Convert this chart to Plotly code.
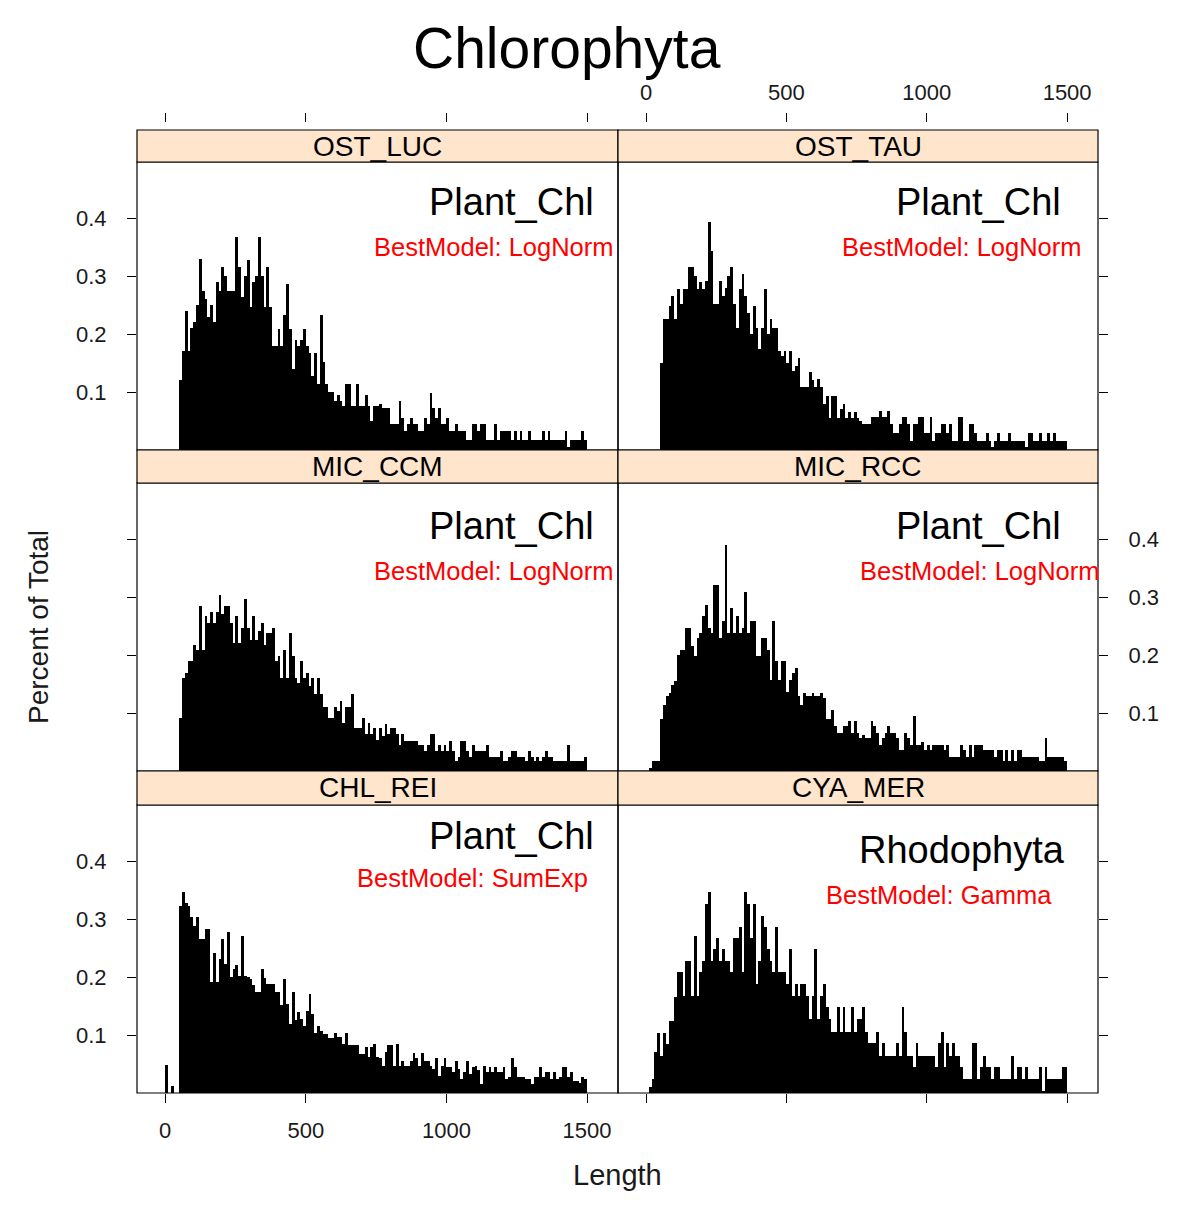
import plotly.graph_objects as go

# ---------------- data (percent of total per 10-unit length bin, 0..1500) ----------------
BIN_START = 0
BIN_WIDTH = 10

panel_names = ["OST_LUC", "OST_TAU", "MIC_CCM", "MIC_RCC", "CHL_REI", "CYA_MER"]
panel_group = ["Plant_Chl", "Plant_Chl", "Plant_Chl", "Plant_Chl", "Plant_Chl", "Rhodophyta"]
panel_model = ["BestModel: LogNorm", "BestModel: LogNorm", "BestModel: LogNorm",
               "BestModel: LogNorm", "BestModel: SumExp", "BestModel: Gamma"]

ost_luc = [0, 0, 0, 0, 0,
    0.12, 0.17, 0.24, 0.17, 0.21, 0.22, 0.25, 0.33, 0.275, 0.26,
    0.23, 0.25, 0.22, 0.29, 0.275, 0.315, 0.30, 0.275, 0.275, 0.275,
    0.368, 0.315, 0.263, 0.30, 0.328, 0.246, 0.29, 0.30, 0.368, 0.30,
    0.246, 0.315, 0.246, 0.18, 0.18, 0.209, 0.18, 0.232, 0.286, 0.209,
    0.14, 0.19, 0.18, 0.19, 0.209, 0.18, 0.168, 0.128, 0.168, 0.114,
    0.233, 0.151, 0.114, 0.10, 0.10, 0.085, 0.095, 0.085, 0.076, 0.114,
    0.114, 0.076, 0.076, 0.114, 0.076, 0.076, 0.095, 0.076, 0.05, 0.076,
    0.076, 0.08, 0.073, 0.073, 0.073, 0.045, 0.045, 0.045, 0.085, 0.056,
    0.033, 0.045, 0.056, 0.045, 0.045, 0.033, 0.033, 0.056, 0.045, 0.098,
    0.073, 0.056, 0.073, 0.045, 0.045, 0.056, 0.033, 0.033, 0.045, 0.033,
    0.033, 0.033, 0.018, 0.018, 0.045, 0.045, 0.033, 0.045, 0.045, 0.018,
    0.018, 0.018, 0.045, 0.018, 0.033, 0.033, 0.033, 0.033, 0.018, 0.033,
    0.018, 0.033, 0.018, 0.018, 0.033, 0.018, 0.018, 0.018, 0.018, 0.033,
    0.018, 0.033, 0.018, 0.018, 0.018, 0.018, 0.018, 0.033, 0.006, 0.018,
    0.018, 0.018, 0.018, 0.033, 0.018]

ost_tau = [0, 0, 0, 0, 0,
    0.15, 0.226, 0.226, 0.249, 0.266, 0.226, 0.278, 0.252, 0.278, 0.278,
    0.315, 0.315, 0.30, 0.278, 0.29, 0.278, 0.292, 0.394, 0.344, 0.252,
    0.252, 0.292, 0.266, 0.28, 0.30, 0.315, 0.252, 0.211, 0.278, 0.303,
    0.266, 0.236, 0.20, 0.249, 0.211, 0.174, 0.211, 0.278, 0.20, 0.226,
    0.211, 0.211, 0.171, 0.162, 0.171, 0.15, 0.171, 0.136, 0.144, 0.159,
    0.108, 0.108, 0.108, 0.134, 0.12, 0.108, 0.122, 0.108, 0.079, 0.093,
    0.056, 0.093, 0.093, 0.056, 0.07, 0.079, 0.056, 0.066, 0.056, 0.066,
    0.056, 0.05, 0.045, 0.045, 0.045, 0.057, 0.057, 0.057, 0.068, 0.057,
    0.057, 0.068, 0.045, 0.03, 0.03, 0.045, 0.057, 0.057, 0.045, 0.016,
    0.045, 0.045, 0.057, 0.057, 0.03, 0.03, 0.057, 0.016, 0.03, 0.03,
    0.045, 0.045, 0.03, 0.045, 0.016, 0.016, 0.057, 0.057, 0.016, 0.016,
    0.045, 0.045, 0.03, 0.016, 0.016, 0.016, 0.03, 0.016, 0.005, 0.016,
    0.03, 0.016, 0.016, 0.016, 0.03, 0.016, 0.016, 0.016, 0.016, 0.016,
    0.005, 0.03, 0.03, 0.016, 0.016, 0.03, 0.016, 0.016, 0.03, 0.016,
    0.03, 0.016, 0.016, 0.016, 0.016]

mic_ccm = [0, 0, 0, 0, 0,
    0.091, 0.16, 0.169, 0.19, 0.189, 0.218, 0.209, 0.284, 0.209, 0.267,
    0.255, 0.275, 0.255, 0.275, 0.304, 0.27, 0.284, 0.284, 0.255, 0.221,
    0.267, 0.221, 0.246, 0.296, 0.246, 0.226, 0.267, 0.226, 0.241, 0.255,
    0.218, 0.238, 0.238, 0.246, 0.189, 0.198, 0.16, 0.209, 0.16, 0.238,
    0.198, 0.16, 0.152, 0.189, 0.16, 0.169, 0.146, 0.16, 0.132, 0.16,
    0.132, 0.111, 0.111, 0.091, 0.091, 0.111, 0.103, 0.12, 0.083, 0.111,
    0.111, 0.132, 0.074, 0.074, 0.074, 0.091, 0.063, 0.083, 0.063, 0.074,
    0.054, 0.074, 0.06, 0.081, 0.063, 0.074, 0.074, 0.063, 0.045, 0.063,
    0.052, 0.052, 0.052, 0.052, 0.052, 0.045, 0.045, 0.034, 0.045, 0.063,
    0.063, 0.034, 0.045, 0.034, 0.045, 0.034, 0.052, 0.034, 0.017, 0.025,
    0.052, 0.052, 0.034, 0.025, 0.045, 0.034, 0.034, 0.034, 0.034, 0.045,
    0.025, 0.025, 0.025, 0.025, 0.034, 0.017, 0.017, 0.025, 0.034, 0.034,
    0.025, 0.025, 0.025, 0.017, 0.034, 0.025, 0.017, 0.025, 0.017, 0.025,
    0.034, 0.025, 0.025, 0.017, 0.017, 0.017, 0.017, 0.017, 0.045, 0.017,
    0.017, 0.017, 0.017, 0.017, 0.025]

mic_rcc = [0, 0.005, 0.017, 0.017, 0.017,
    0.09, 0.114, 0.129, 0.135, 0.149, 0.156, 0.2, 0.209, 0.209, 0.247,
    0.247, 0.215, 0.198, 0.229, 0.238, 0.267, 0.287, 0.247, 0.238, 0.321,
    0.321, 0.229, 0.258, 0.39, 0.238, 0.281, 0.238, 0.267, 0.238, 0.247,
    0.309, 0.238, 0.258, 0.258, 0.198, 0.198, 0.229, 0.229, 0.209, 0.157,
    0.258, 0.189, 0.157, 0.189, 0.189, 0.137, 0.157, 0.169, 0.178, 0.129,
    0.114, 0.135, 0.129, 0.129, 0.135, 0.129, 0.129, 0.135, 0.126, 0.089,
    0.089, 0.106, 0.077, 0.066, 0.066, 0.077, 0.077, 0.086, 0.066, 0.086,
    0.066, 0.057, 0.062, 0.057, 0.057, 0.086, 0.077, 0.066, 0.045, 0.057,
    0.066, 0.077, 0.066, 0.066, 0.057, 0.037, 0.037, 0.066, 0.057, 0.045,
    0.094, 0.045, 0.045, 0.05, 0.037, 0.045, 0.037, 0.045, 0.045, 0.045,
    0.045, 0.037, 0.045, 0.025, 0.025, 0.025, 0.025, 0.045, 0.037, 0.025,
    0.045, 0.025, 0.045, 0.045, 0.045, 0.037, 0.037, 0.037, 0.037, 0.025,
    0.037, 0.037, 0.017, 0.037, 0.017, 0.037, 0.017, 0.037, 0.037, 0.025,
    0.025, 0.025, 0.025, 0.025, 0.025, 0.017, 0.017, 0.057, 0.025, 0.025,
    0.025, 0.025, 0.025, 0.025, 0.017]

chl_rei = [0.048, 0, 0.012, 0, 0,
    0.323, 0.347, 0.327, 0.323, 0.303, 0.288, 0.303, 0.265, 0.265, 0.283,
    0.283, 0.191, 0.241, 0.191, 0.231, 0.266, 0.222, 0.278, 0.2, 0.214,
    0.221, 0.202, 0.27, 0.202, 0.2, 0.197, 0.186, 0.175, 0.175, 0.213,
    0.198, 0.188, 0.188, 0.188, 0.174, 0.174, 0.152, 0.197, 0.153, 0.119,
    0.175, 0.126, 0.139, 0.128, 0.116, 0.142, 0.171, 0.136, 0.104, 0.116,
    0.107, 0.102, 0.102, 0.094, 0.094, 0.104, 0.096, 0.096, 0.085, 0.104,
    0.082, 0.082, 0.082, 0.082, 0.067, 0.067, 0.079, 0.062, 0.079, 0.085,
    0.062, 0.06, 0.047, 0.07, 0.082, 0.082, 0.047, 0.085, 0.047, 0.056,
    0.047, 0.047, 0.056, 0.069, 0.06, 0.047, 0.069, 0.056, 0.056, 0.047,
    0.041, 0.06, 0.03, 0.047, 0.06, 0.044, 0.044, 0.036, 0.056, 0.041,
    0.024, 0.036, 0.056, 0.033, 0.044, 0.047, 0.039, 0.016, 0.047, 0.036,
    0.044, 0.036, 0.044, 0.036, 0.036, 0.044, 0.024, 0.027, 0.06, 0.044,
    0.027, 0.027, 0.027, 0.024, 0.024, 0.016, 0.027, 0.027, 0.044, 0.027,
    0.036, 0.036, 0.024, 0.036, 0.024, 0.027, 0.044, 0.044, 0.027, 0.036,
    0.021, 0.021, 0.018, 0.027, 0.024]

cya_mer = [0, 0.01, 0.024, 0.07, 0.104,
    0.064, 0.104, 0.085, 0.125, 0.125, 0.165, 0.208, 0.208, 0.168, 0.228,
    0.228, 0.168, 0.27, 0.168, 0.208, 0.228, 0.326, 0.346, 0.228, 0.248,
    0.268, 0.228, 0.248, 0.228, 0.228, 0.208, 0.268, 0.268, 0.286, 0.208,
    0.346, 0.326, 0.268, 0.326, 0.188, 0.228, 0.306, 0.286, 0.248, 0.228,
    0.208, 0.286, 0.208, 0.208, 0.208, 0.188, 0.248, 0.168, 0.188, 0.168,
    0.188, 0.188, 0.168, 0.127, 0.168, 0.248, 0.127, 0.168, 0.188, 0.148,
    0.127, 0.106, 0.106, 0.148, 0.106, 0.148, 0.106, 0.106, 0.148, 0.106,
    0.127, 0.127, 0.148, 0.106, 0.086, 0.086, 0.086, 0.106, 0.064, 0.086,
    0.064, 0.064, 0.064, 0.064, 0.086, 0.064, 0.148, 0.106, 0.064, 0.064,
    0.044, 0.086, 0.064, 0.064, 0.064, 0.064, 0.064, 0.064, 0.044, 0.086,
    0.106, 0.044, 0.086, 0.064, 0.086, 0.064, 0.064, 0.044, 0.024, 0.024,
    0.024, 0.086, 0.086, 0.024, 0.044, 0.064, 0.044, 0.044, 0.024, 0.044,
    0.044, 0.024, 0.024, 0.024, 0.024, 0.064, 0.024, 0.044, 0.044, 0.024,
    0.044, 0.024, 0.024, 0.024, 0.024, 0.044, 0.004, 0.044, 0.024, 0.024,
    0.024, 0.024, 0.024, 0.044, 0.044]

panel_values = [ost_luc, ost_tau, mic_ccm, mic_rcc, chl_rei, cya_mer]

x_tickvals = [0, 500, 1000, 1500]
x_ticktext = ["0", "500", "1000", "1500"]
y_tickvals = [0.1, 0.2, 0.3, 0.4]
y_ticktext = ["0.1", "0.2", "0.3", "0.4"]

# ---------------- layout geometry (pixels of a 1200 x 1228 page) ----------------
W, H = 1200, 1228
FONT = "Liberation Sans, Arial, Helvetica, sans-serif"
TXT = "#1a1a1a"
STRIP_FILL = "#FFE5CC"
RED = "#FF0000"

def px(x):
    return x / W

def py(y):
    return 1 - y / H

col_px = [(137, 618), (618, 1098)]
row_px = [(162, 450), (483, 771), (805, 1093)]          # plotting area
strip_px = [(130, 162), (450, 483), (771, 805)]          # strips
TOP_AXIS_PX = 122
XRANGE = [-100, 1610]
YRANGE = [0, 0.4966]

fig = go.Figure()
layout = dict(
    width=W, height=H, margin=dict(l=0, r=0, t=0, b=0),
    paper_bgcolor="white", plot_bgcolor="white",
    showlegend=False, bargap=0,
    font=dict(family=FONT, color=TXT),
)
shapes, annotations = [], []

tickfont = dict(family=FONT, size=22, color=TXT)

for i, (name, vals) in enumerate(zip(panel_names, panel_values)):
    r, c = divmod(i, 2)
    k = i + 1
    xa = "x" if k == 1 else f"x{k}"
    ya = "y" if k == 1 else f"y{k}"
    centers = [BIN_START + BIN_WIDTH * (j + 0.5) for j in range(len(vals))]
    fig.add_trace(go.Bar(x=centers, y=vals, width=BIN_WIDTH, xaxis=xa, yaxis=ya,
                         marker=dict(color="black", line=dict(width=0)),
                         hovertemplate=name + " %{x}: %{y}<extra></extra>"))

    xd = [px(col_px[c][0]), px(col_px[c][1])]
    yd = [py(row_px[r][1]), py(row_px[r][0])]

    xaxis = dict(domain=xd, range=XRANGE, showgrid=False, zeroline=False, showline=False,
                 tickvals=x_tickvals, ticktext=x_ticktext, tickfont=tickfont,
                 ticks="", showticklabels=False, fixedrange=True)
    if r == 0:
        xaxis.update(anchor="free", position=py(TOP_AXIS_PX), side="top",
                     ticks="outside", ticklen=9, tickcolor="black",
                     showticklabels=(c == 1), ticklabelstandoff=4)
    elif r == 2:
        xaxis.update(anchor=ya, side="bottom", ticks="outside", ticklen=9,
                     tickcolor="black", showticklabels=(c == 0), ticklabelstandoff=9)
    else:
        xaxis.update(anchor=ya)
    yaxis = dict(domain=yd, range=YRANGE, anchor=xa, showgrid=False, zeroline=False,
                 showline=False, tickvals=y_tickvals, ticktext=y_ticktext,
                 tickfont=tickfont, ticks="outside", ticklen=9, tickcolor="black",
                 side="left" if c == 0 else "right", fixedrange=True,
                 ticklabelstandoff=16)
    show_lab = (c == 0 and r != 1) or (c == 1 and r == 1)
    yaxis["showticklabels"] = show_lab
    layout["xaxis" if k == 1 else f"xaxis{k}"] = xaxis
    layout["yaxis" if k == 1 else f"yaxis{k}"] = yaxis

    # panel frame
    shapes.append(dict(type="rect", xref="paper", yref="paper",
                       x0=xd[0], x1=xd[1], y0=yd[0], y1=yd[1],
                       line=dict(color="black", width=1.2), layer="above"))
    # strip
    s0, s1 = strip_px[r]
    shapes.append(dict(type="rect", xref="paper", yref="paper",
                       x0=xd[0], x1=xd[1], y0=py(s1), y1=py(s0),
                       fillcolor=STRIP_FILL, line=dict(color="black", width=1.2),
                       layer="above"))
    annotations.append(dict(text=name, xref="paper", yref="paper",
                            x=(xd[0] + xd[1]) / 2, y=py((s0 + s1) / 2),
                            showarrow=False, xanchor="center", yanchor="middle",
                            font=dict(family=FONT, size=28, color="black")))

# in-panel labels (right-aligned)
group_pos = [(596, 202), (1063, 202), (596, 526), (1063, 526), (596, 836), (1067, 850)]
model_pos = [(616, 247), (1084, 247), (616, 571), (1102, 571), (590, 878), (1054, 895)]
for i in range(6):
    gx, gy = group_pos[i]
    mx, my = model_pos[i]
    annotations.append(dict(text=panel_group[i], xref="paper", yref="paper",
                            x=px(gx), y=py(gy), showarrow=False,
                            xanchor="right", yanchor="middle",
                            font=dict(family=FONT, size=38, color="black")))
    annotations.append(dict(text=panel_model[i], xref="paper", yref="paper",
                            x=px(mx), y=py(my), showarrow=False,
                            xanchor="right", yanchor="middle",
                            font=dict(family=FONT, size=25.5, color=RED)))

# title and axis titles
annotations.append(dict(text="Chlorophyta", xref="paper", yref="paper",
                        x=px(567), y=py(48), showarrow=False,
                        xanchor="center", yanchor="middle",
                        font=dict(family=FONT, size=57, color="black")))
annotations.append(dict(text="Length", xref="paper", yref="paper",
                        x=px(617), y=py(1175), showarrow=False,
                        xanchor="center", yanchor="middle",
                        font=dict(family=FONT, size=29, color=TXT)))
annotations.append(dict(text="Percent of Total", xref="paper", yref="paper",
                        x=px(38), y=py(627), showarrow=False, textangle=-90,
                        xanchor="center", yanchor="middle",
                        font=dict(family=FONT, size=28, color=TXT)))

layout["shapes"] = shapes
layout["annotations"] = annotations
fig.update_layout(**layout)

fig.write_html("out.html", config={"displayModeBar": False},
               post_script="document.body.style.margin='0';document.body.style.padding='0';")
